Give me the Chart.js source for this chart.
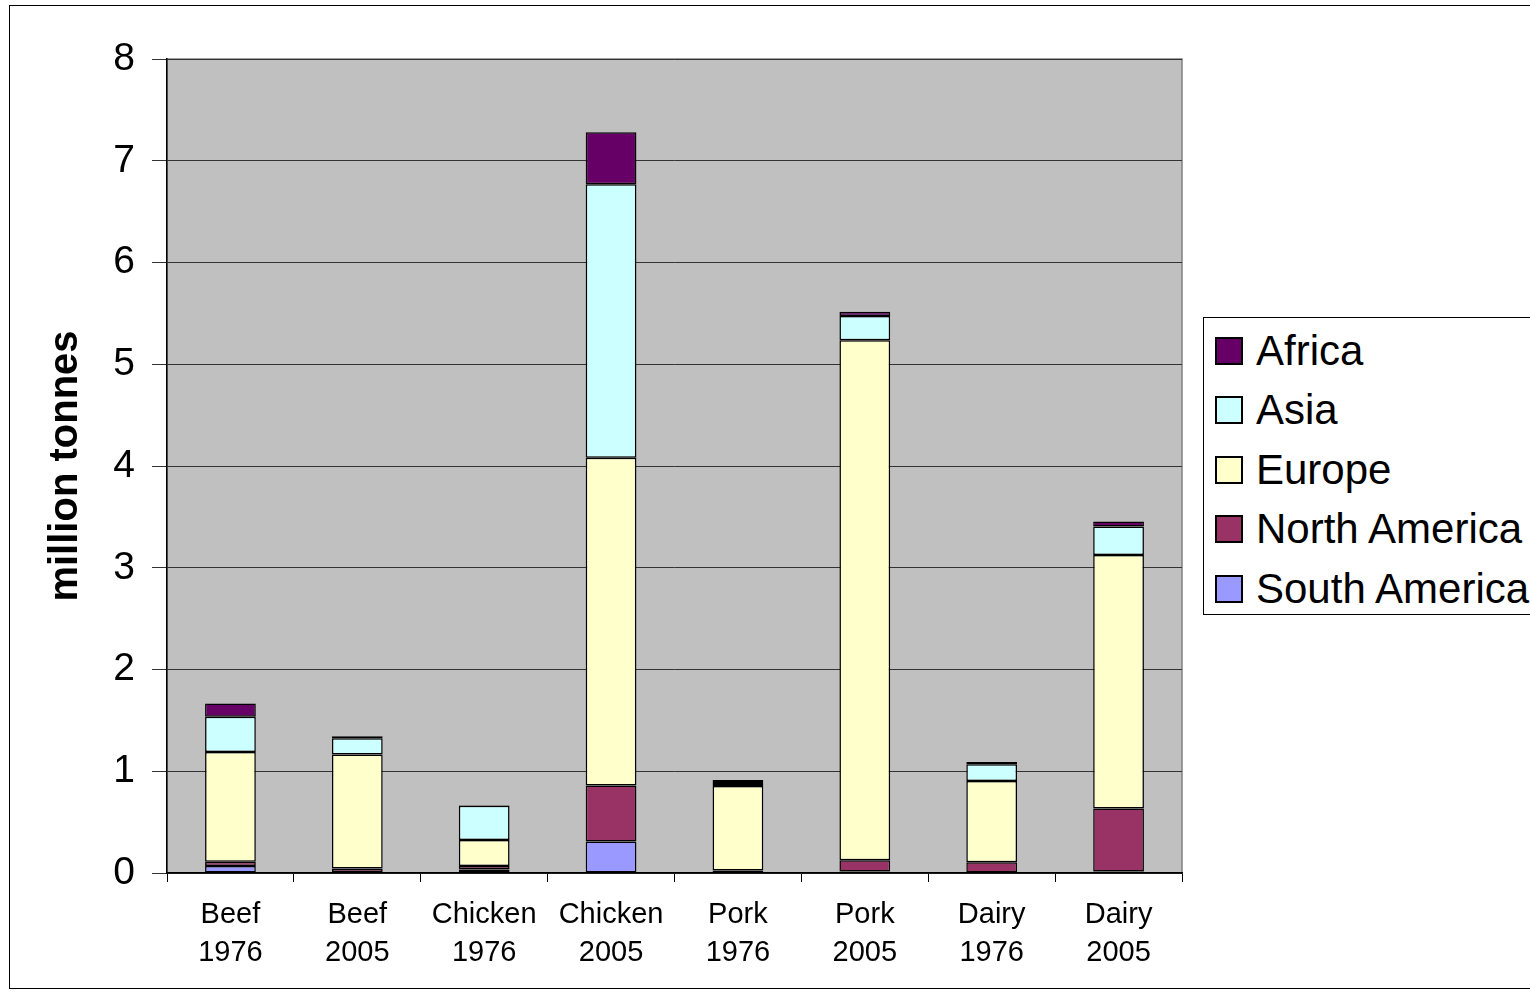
<!DOCTYPE html>
<html>
<head>
<meta charset="utf-8">
<script src="https://cdn.jsdelivr.net/npm/chart.js@4"></script>
<style>
  body { margin: 0; background: #fff; font-family: "Liberation Sans", Arial, sans-serif; }
  #wrap { position: relative; width: 1530px; height: 993px; overflow: hidden; }
  #frame { position: absolute; left: 9px; top: 5px; width: 1540px; height: 984px; border: 1.5px solid #000; box-sizing: border-box; }
  #legend { position: absolute; left: 1203px; top: 317px; width: 360px; height: 298px; border: 1.5px solid #000; box-sizing: border-box; background: #fff; padding-top: 3px; }
  .item { height: 59.5px; display: flex; align-items: center; font-size: 42px; color: #000; }
  .sw { width: 24px; height: 24px; border: 2px solid #000; margin-left: 11px; margin-right: 13px; }
  canvas { position: absolute; left: 0; top: 0; }
</style>
</head>
<body>
<div id="wrap">
  <div id="frame"></div>
  <canvas id="c" width="1530" height="993"></canvas>
  <div id="legend"></div>
</div>
<script>
  const categories = [["Beef", "1976"], ["Beef", "2005"], ["Chicken", "1976"], ["Chicken", "2005"],
                      ["Pork", "1976"], ["Pork", "2005"], ["Dairy", "1976"], ["Dairy", "2005"]];
  const southAmerica = [0.07, 0.01, 0.035, 0.31, 0.01, 0.015, 0.005, 0.015];
  const northAmerica = [0.04, 0.035, 0.035, 0.55, 0.015, 0.11, 0.10, 0.62];
  const europe       = [1.08, 1.12, 0.255, 3.22, 0.83, 5.11, 0.80, 2.49];
  const asia         = [0.345, 0.16, 0.335, 2.69, 0.03, 0.24, 0.165, 0.28];
  const africa       = [0.13, 0.02, 0.005, 0.51, 0.03, 0.04, 0.02, 0.05];
  const yTicks = [0, 1, 2, 3, 4, 5, 6, 7, 8];

  // stacked bottom to top, legend shown top to bottom
  const series = [
    { label: "South America", data: southAmerica, color: "#9999ff" },
    { label: "North America", data: northAmerica, color: "#993366" },
    { label: "Europe", data: europe, color: "#ffffcc" },
    { label: "Asia", data: asia, color: "#ccffff" },
    { label: "Africa", data: africa, color: "#660066" }
  ];

  const plotBg = {
    id: "plotBg",
    beforeDraw(chart) {
      const a = chart.chartArea, ctx = chart.ctx;
      ctx.save();
      ctx.fillStyle = "#c0c0c0";
      ctx.fillRect(a.left, a.top, a.right - a.left, a.bottom - a.top);
      ctx.strokeStyle = "#808080";
      ctx.lineWidth = 1.5;
      ctx.strokeRect(a.left, a.top, a.right - a.left, a.bottom - a.top);
      ctx.restore();
    }
  };

  new Chart(document.getElementById("c"), {
    type: "bar",
    data: {
      labels: categories,
      datasets: series.map(s => ({
        label: s.label,
        data: s.data,
        backgroundColor: s.color,
        borderColor: "#000",
        borderWidth: 1.5,
        borderSkipped: false,
        barPercentage: 0.4,
        categoryPercentage: 1
      }))
    },
    options: {
      responsive: false,
      animation: false,
      layout: { padding: { left: 0, top: 59, right: 348, bottom: 0 } },
      plugins: { legend: { display: false }, tooltip: { enabled: false } },
      scales: {
        x: {
          stacked: true,
          afterFit(scale) { scale.height = 120; },
          grid: { offset: true, drawOnChartArea: false, color: "#000", tickLength: 9, lineWidth: 1 },
          border: { color: "#000", width: 1.5 },
          ticks: { color: "#000", font: { family: "Liberation Sans", size: 29, lineHeight: 1.3 }, padding: 14, maxRotation: 0 }
        },
        y: {
          stacked: true,
          min: 0,
          max: 8,
          afterFit(scale) { scale.width = 167; },
          afterBuildTicks(scale) { scale.ticks = yTicks.map(v => ({ value: v })); },
          grid: { color: "#333", tickLength: 15, lineWidth: 1 },
          border: { color: "#000", width: 1.5 },
          ticks: { color: "#000", font: { family: "Liberation Sans", size: 39 }, padding: 17 },
          title: { display: true, text: "million tonnes", color: "#000",
                   font: { family: "Liberation Sans", size: 40, weight: "bold" }, padding: { top: 42, bottom: 0 } }
        }
      }
    },
    plugins: [plotBg]
  });

  const legend = document.getElementById("legend");
  series.slice().reverse().forEach(s => {
    const row = document.createElement("div");
    row.className = "item";
    const sw = document.createElement("div");
    sw.className = "sw";
    sw.style.background = s.color;
    row.appendChild(sw);
    row.appendChild(document.createTextNode(s.label));
    legend.appendChild(row);
  });
</script>
</body>
</html>
